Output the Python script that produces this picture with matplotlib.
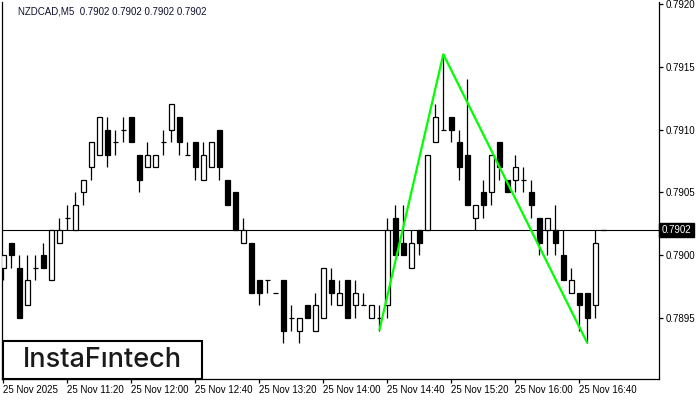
import matplotlib
matplotlib.use("Agg")
import matplotlib.pyplot as plt
from matplotlib.patches import Rectangle

# M5 candles, NZDCAD 25 Nov 2025 from 10:40, values in pips above 0.7900
base = 0.7900
opens = [-1, 1, -1, -4, -1, 0, -2, 1, 3, 2, 5, 7, 8, 10, 9, 10, 11, 8, 7, 7,
         9, 10, 11, 8, 9, 6, 7, 10, 6, 5, 1, 1, -2, -2, -3, -2, -5, -6, -4, -6,
         -5, -2, -4, -2, -4, -4, -5, -5, -4, 3, 1, -1, 2, 2, 9, 10, 11, 9, 8, 3,
         5, 5, 9, 6, 6, 6, 5, 3, 2, 2, 0, -3, -3, -3, -4, 2]
highs = [0, 1, 0, 0, 0, 1, 2, 3, 4, 5, 6, 9, 11, 11, 10, 11, 11, 8, 9, 8,
         10, 12, 11, 9, 9, 9, 9, 10, 6, 5, 3, 1, -2, -2, -3, -2, -4, -5, -4, -3,
         -1, -1, -2, -2, -2, -3, -4, -4, 3, 4, 4, 2, 2, 8, 12, 16, 11, 10, 14, 4,
         6, 8, 9, 6, 8, 7, 6, 3, 3, 4, 2, -1, -3, -3, 2, 2]
lows = [-2, -1, -5, -4, -2, -1, -2, 1, 2, 2, 4, 6, 8, 7, 8, 9, 9, 5, 7, 7,
        8, 9, 8, 8, 6, 6, 7, 6, 4, 2, 1, -3, -4, -3, -3, -7, -6, -7, -5, -6,
        -5, -4, -4, -5, -5, -4, -5, -6, -5, 0, 0, -1, 0, 2, 9, 10, 9, 6, 4, 2,
        3, 4, 6, 5, 5, 5, 3, 0, 0, 0, -2, -3, -6, -7, -5, 2]
closes = [0, 0, -5, -2, -1, -1, 2, 2, 3, 4, 6, 9, 11, 8, 9, 10, 9, 6, 8, 8,
          9, 12, 9, 8, 7, 8, 9, 7, 4, 2, 2, -3, -3, -2, -3, -6, -5, -5, -5, -4,
          -1, -3, -3, -5, -3, -4, -4, -5, 2, 0, 0, 1, 1, 8, 11, 10, 10, 7, 4, 4,
          4, 8, 7, 5, 7, 6, 4, 1, 3, 1, -2, -2, -4, -5, 1, 2]

# double top pattern: start low, peak high, end low (bar index, pips)
pattern_bars = [47, 55, 73]
pattern_pips = [-6, 16, -7]

last_price = 0.7902
price_ticks = [0.7895, 0.7900, 0.7905, 0.7910, 0.7915, 0.7920]
time_ticks = [0, 8, 16, 24, 32, 40, 48, 56, 64, 72]
time_labels = ["25 Nov 2025", "25 Nov 11:20", "25 Nov 12:00", "25 Nov 12:40",
               "25 Nov 13:20", "25 Nov 14:00", "25 Nov 14:40", "25 Nov 15:20",
               "25 Nov 16:00", "25 Nov 16:40"]


def px(p):
    return base + p / 10000.0


W, H = 700, 400
fig = plt.figure(figsize=(7, 4), dpi=100)
ax = fig.add_axes([2.3 / W, (H - 379) / H, (659 - 2.3) / W, (379 - 2) / H])

ax.axhline(last_price, color="black", lw=0.8, zorder=1)

bw = 0.6
for i in range(len(opens)):
    o, h, l, c = px(opens[i]), px(highs[i]), px(lows[i]), px(closes[i])
    ax.vlines(i, l, h, color="black", lw=0.9, zorder=2)
    if opens[i] == closes[i]:
        ax.hlines(o, i - bw / 2 - 0.05, i + bw / 2 + 0.05, color="black", lw=0.9, zorder=3)
    else:
        fill = "white" if closes[i] > opens[i] else "black"
        ax.add_patch(Rectangle((i - bw / 2, min(o, c)), bw, abs(c - o),
                               facecolor=fill, edgecolor="black", lw=0.9, zorder=3))

ax.plot(pattern_bars, [px(p) for p in pattern_pips], color="#00ff00", lw=1.6,
        zorder=4, solid_capstyle="butt")

ax.set_xlim(-0.125, 81.96)
ax.set_ylim(0.789014, 0.792016)

ax.spines["top"].set_visible(False)
for s in ["left", "right", "bottom"]:
    ax.spines[s].set_linewidth(0.9)

ax.yaxis.tick_right()
ax.set_yticks(price_ticks)
ax.set_yticklabels([f"{v:.4f}" for v in price_ticks])
ax.set_xticks(time_ticks)
ax.set_xticklabels(time_labels, ha="left")
ax.tick_params(axis="both", length=3, width=0.9, labelsize=7, pad=2,
               labelfontfamily="Liberation Sans")
ax.tick_params(axis="x", pad=1)

ax.text(1.004, last_price, f"{last_price:.4f}", transform=ax.get_yaxis_transform(),
        va="center", ha="left", fontsize=7, color="white", family="Liberation Sans",
        bbox=dict(boxstyle="square,pad=0.25", facecolor="black", edgecolor="black"),
        zorder=6, clip_on=False)

fig.text(18 / W, 1 - 11 / H, "NZDCAD,M5  0.7902 0.7902 0.7902 0.7902", fontsize=7,
         family="Liberation Sans", va="center", ha="left", color="#101030")

# logo box
fig.patches.append(Rectangle((3 / W, (H - 379) / H), 199 / W, 38 / H,
                             transform=fig.transFigure, facecolor="white",
                             edgecolor="black", lw=1.5, zorder=10))
fig.text(102 / W, 1 - 360 / H, "InstaF\u0131ntech", fontsize=19.5, family="Inter",
         fontweight="medium", ha="center", va="center", color="#1a1a1a", zorder=11)

fig.savefig("out.png", dpi=100)
